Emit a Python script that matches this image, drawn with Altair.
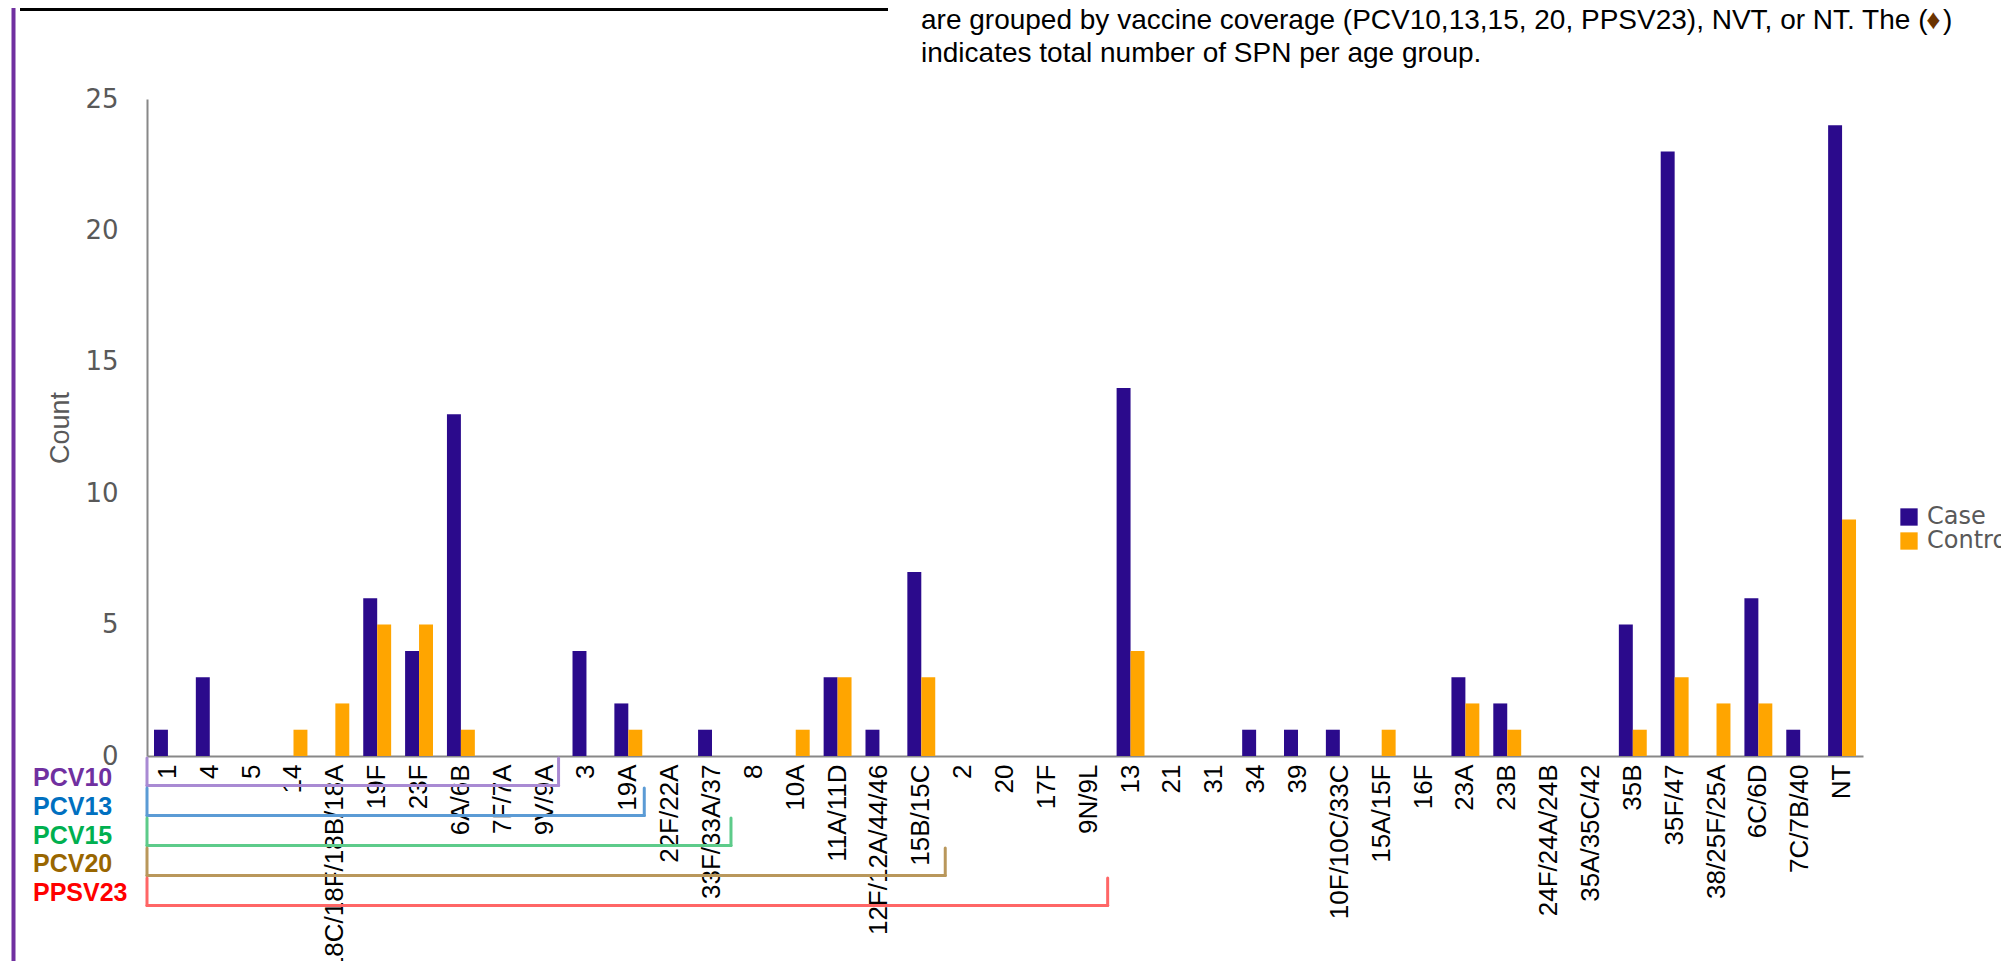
import altair as alt
import pandas as pd

# ---------------- data ----------------
serotypes = ["1", "4", "5", "14", "18C/18F/18B/18A", "19F", "23F", "6A/6B", "7F/7A", "9V/9A",
             "3", "19A", "22F/22A", "33F/33A/37", "8", "10A", "11A/11D", "12F/12A/44/46", "15B/15C",
             "2", "20", "17F", "9N/9L", "13", "21", "31", "34", "39", "10F/10C/33C", "15A/15F",
             "16F", "23A", "23B", "24F/24A/24B", "35A/35C/42", "35B", "35F/47", "38/25F/25A",
             "6C/6D", "7C/7B/40", "NT"]
case_counts = [1, 3, 0, 0, 0, 6, 4, 13, 0, 0,
               4, 2, 0, 1, 0, 0, 3, 1, 7,
               0, 0, 0, 0, 14, 0, 0, 1, 1, 1, 0,
               0, 3, 2, 0, 0, 5, 23, 0,
               6, 1, 24]
control_counts = [0, 0, 0, 1, 2, 5, 5, 1, 0, 0,
                  0, 1, 0, 0, 0, 1, 3, 0, 3,
                  0, 0, 0, 0, 4, 0, 0, 0, 0, 0, 1,
                  0, 2, 1, 0, 0, 1, 3, 2,
                  2, 0, 9]
groups = ["Case", "Control"]
group_colors = ["#2B0A8C", "#FFA500"]
y_ticks = [0, 5, 10, 15, 20, 25]

bracket_names = ["PCV10", "PCV13", "PCV15", "PCV20", "PPSV23"]
bracket_last = ["9V/9A", "19A", "33F/33A/37", "15B/15C", "9N/9L"]
bracket_text_colors = ["#7030A0", "#0070C0", "#00B050", "#996600", "#FF0000"]
bracket_line_colors = ["#A98AD3", "#5B9BD5", "#5DCB8A", "#B9975B", "#FF6666"]

note_line1 = "are grouped by vaccine coverage (PCV10,13,15, 20, PPSV23), NVT, or NT. The ("
note_line2 = "indicates total number of SPN per age group."
diamond = "\u2666"

# ---------------- layout ----------------
W, H = 1716, 657
PAD = {"left": 139, "top": 91, "right": 138, "bottom": 205}
bracket_adjust = [0, 2, 5, 10, 5]
note_fs = 28

rows = []
for s, c, k in zip(serotypes, case_counts, control_counts):
    rows.append({"serotype": s, "group": "Case", "count": c})
    rows.append({"serotype": s, "group": "Control", "count": k})
df = pd.DataFrame(rows)

x_scale = alt.Scale(domain=serotypes, paddingInner=1 / 3, paddingOuter=1 / 6)
x_axis = alt.Axis(labelAngle=-90, labelFont="Liberation Sans", labelFontSize=26,
                  labelColor="black", ticks=False, labelPadding=8, domainColor="#888888",
                  domainWidth=2, title=None, labelOverlap=False, labelLimit=400)


def xenc(bp=0.5):
    return alt.X("serotype:N", scale=x_scale, axis=x_axis, bandPosition=bp, title=None)


bars = alt.Chart(df).mark_bar().encode(
    x=alt.X("serotype:N", scale=x_scale, axis=x_axis, title=None),
    xOffset=alt.XOffset("group:N", sort=groups),
    y=alt.Y("count:Q", scale=alt.Scale(domain=[0, 25], nice=False),
            axis=alt.Axis(values=y_ticks, grid=False, ticks=False, tickSize=0,
                          labelPadding=29, domainColor="#888888", domainWidth=2,
                          labelFont="DejaVu Sans", labelFontSize=26, labelColor="#595959",
                          title="Count", titleFont="Liberation Sans", titleFontSize=27,
                          titleFontWeight="normal", titleColor="#595959", titlePadding=10)),
    color=alt.Color("group:N", sort=groups,
                    scale=alt.Scale(domain=groups, range=group_colors),
                    legend=alt.Legend(orient="none", legendX=1750, legendY=406, title=None,
                                      symbolType="square", symbolSize=300,
                                      labelFont="DejaVu Sans", labelFontSize=24,
                                      labelColor="#595959", labelOffset=6, rowPadding=-2,
                                      padding=0, symbolStrokeWidth=0)),
)

layers = [bars]

one = pd.DataFrame({"a": [0]})

for i, (name, last, tc, lc) in enumerate(zip(bracket_names, bracket_last,
                                              bracket_text_colors, bracket_line_colors)):
    top = 659 + 30 * i
    bottom = top + 27.5
    d = pd.DataFrame({"serotype": [last], "name": [name]})
    adj = bracket_adjust[i]
    layers.append(alt.Chart(d).mark_rule(color=lc, strokeWidth=3, strokeCap="round").encode(
        x=alt.value(0), y=alt.value(top), y2=alt.value(bottom)))
    layers.append(alt.Chart(d).mark_rule(color=lc, strokeWidth=3, strokeCap="round",
                                         xOffset=adj).encode(
        x=xenc(1), x2=alt.value(0), y=alt.value(bottom)))
    layers.append(alt.Chart(d).mark_rule(color=lc, strokeWidth=3, strokeCap="round",
                                         xOffset=adj).encode(
        x=xenc(1), y=alt.value(top), y2=alt.value(bottom)))
    layers.append(alt.Chart(d).mark_text(align="left", baseline="middle", font="Liberation Sans",
                                         fontWeight="bold", fontSize=25, color=tc).encode(
        x=alt.value(33 - 147), y=alt.value(679 + 28.8 * i), text="name:N"))

# left purple border and top table rule
layers.append(alt.Chart(one).mark_rule(color="#7030A0", strokeWidth=4).encode(
    x=alt.value(-133.5), y=alt.value(-99), y2=alt.value(880)))
layers.append(alt.Chart(one).mark_rule(color="black", strokeWidth=3).encode(
    x=alt.value(-127), x2=alt.value(741), y=alt.value(-89.5)))

# caption text at top right
layers.append(alt.Chart(pd.DataFrame({"t": [note_line1]})).mark_text(
    align="left", baseline="alphabetic", font="Liberation Sans", fontSize=note_fs,
    color="black").encode(x=alt.value(774), y=alt.value(-70), text="t:N"))
layers.append(alt.Chart(pd.DataFrame({"t": [note_line2]})).mark_text(
    align="left", baseline="alphabetic", font="Liberation Sans", fontSize=note_fs,
    color="black").encode(x=alt.value(774), y=alt.value(-37), text="t:N"))
dx = 774 + 35.9 * note_fs
layers.append(alt.Chart(pd.DataFrame({"t": [diamond]})).mark_text(
    align="left", baseline="alphabetic", font="Liberation Sans", fontSize=note_fs,
    color="#6B3300").encode(x=alt.value(dx), y=alt.value(-70), text="t:N"))
layers.append(alt.Chart(pd.DataFrame({"t": [")"]})).mark_text(
    align="left", baseline="alphabetic", font="Liberation Sans", fontSize=note_fs,
    color="black").encode(x=alt.value(dx + 0.6 * note_fs), y=alt.value(-70), text="t:N"))

chart = alt.layer(*layers).properties(
    width=W, height=H,
    autosize=alt.AutoSizeParams(type="none"),
    padding=PAD,
    background="white",
).configure_view(stroke=None)

chart.save("out.html", embed_options={"renderer": "svg", "actions": False})
